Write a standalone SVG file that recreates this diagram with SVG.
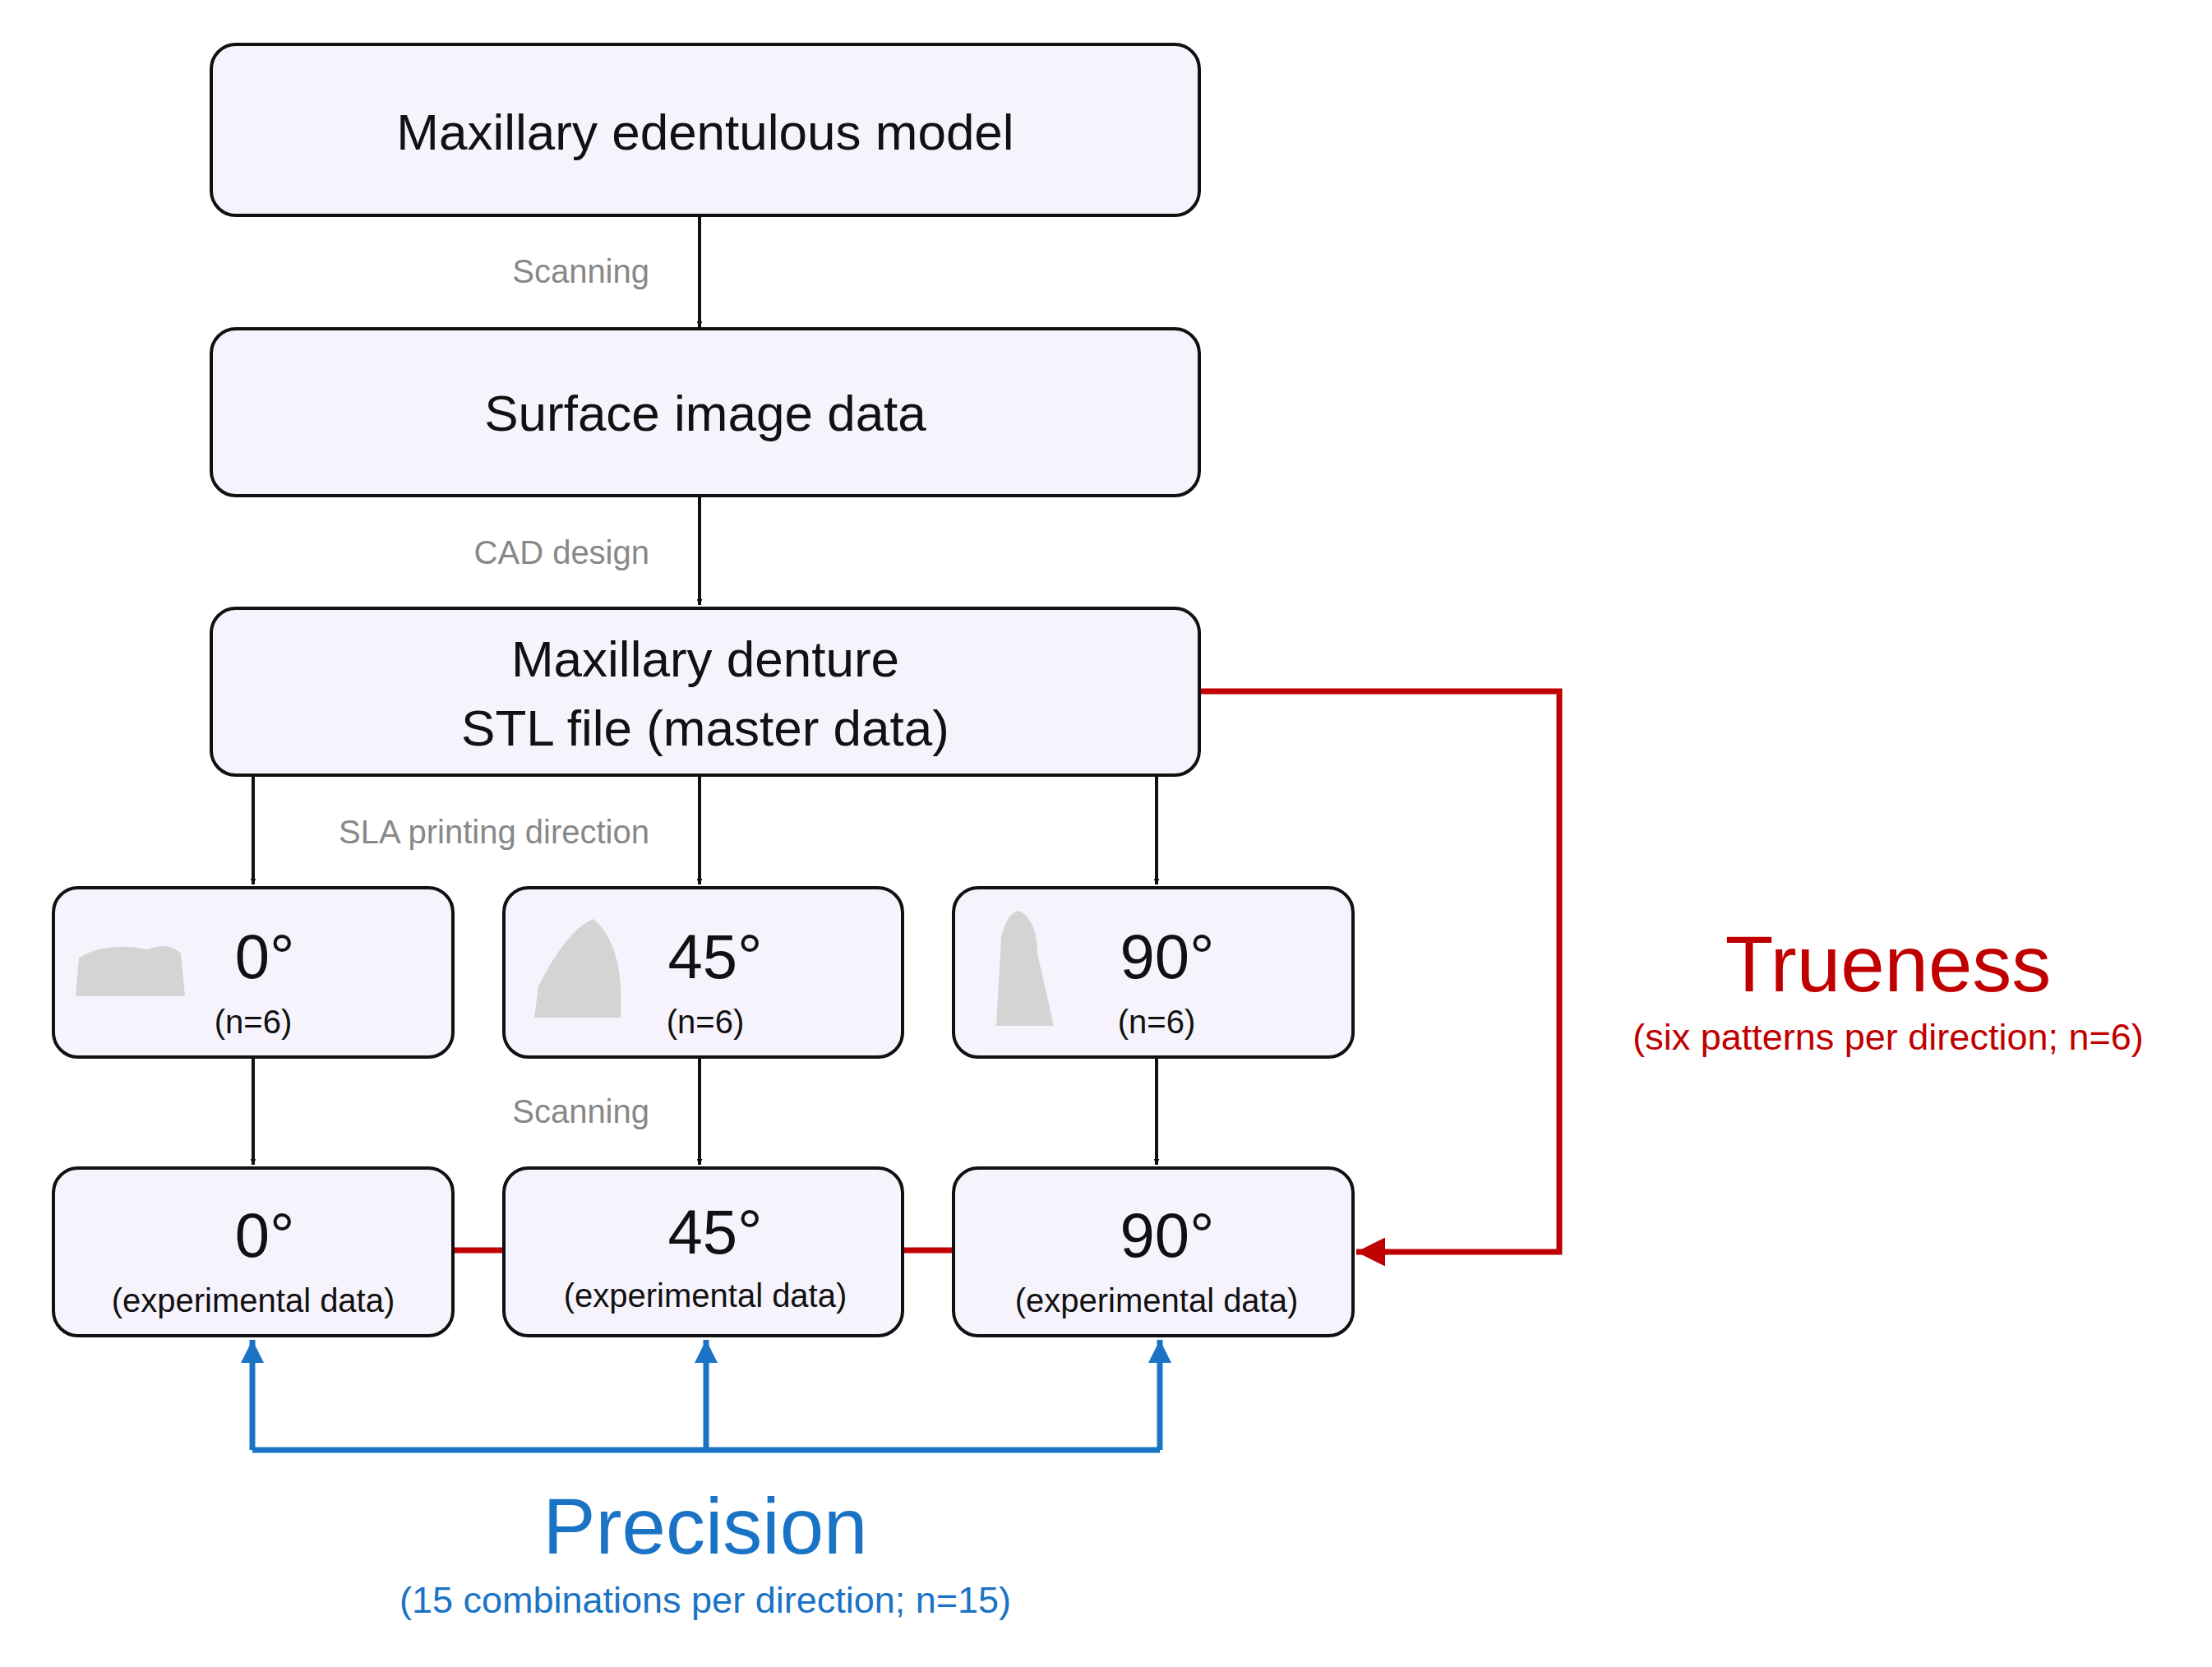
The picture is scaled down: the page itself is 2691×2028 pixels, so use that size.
<svg xmlns="http://www.w3.org/2000/svg" width="2691" height="2028" viewBox="0 0 2691 2028">
<style>
.box{fill:#f7f3fd;stroke:#111;stroke-width:4}
text{font-family:"Liberation Sans",Arial,sans-serif;text-anchor:middle}
.t{font-size:62px;fill:#111}
.d{font-size:76px;fill:#111}
.s{font-size:40px;fill:#111}
.g{font-size:40px;fill:#888;text-anchor:end}
.k{stroke:#111;stroke-width:4;fill:none}
.r{stroke:#c00000;stroke-width:7;fill:none}
.b{stroke:#1a73c4;stroke-width:7;fill:none}
.img{fill:#d4d4d4}
</style>
<defs>
<marker id="ak" viewBox="0 0 10 10" refX="10" refY="5" markerWidth="7" markerHeight="7" markerUnits="userSpaceOnUse" orient="auto"><path d="M0,0L10,5L0,10z" fill="#111"/></marker>
<marker id="ar" viewBox="0 0 10 10" refX="10" refY="5" markerWidth="5" markerHeight="5" orient="auto"><path d="M0,0L10,5L0,10z" fill="#c00000"/></marker>
<marker id="ab" viewBox="0 0 10 10" refX="10" refY="5" markerWidth="4" markerHeight="4" orient="auto"><path d="M0,0L10,5L0,10z" fill="#1a73c4"/></marker>
</defs>
<g id="connectors">
<path class="k" d="M851,262V398" style="marker-end:url(#ak)" marker-end="url(#ak)"/>
<path class="k" d="M851,603V736" marker-end="url(#ak)"/>
<path class="k" d="M308,943V1076" marker-end="url(#ak)"/>
<path class="k" d="M851,943V1076" marker-end="url(#ak)"/>
<path class="k" d="M1407,943V1076" marker-end="url(#ak)"/>
<path class="k" d="M308,1286V1417" marker-end="url(#ak)"/>
<path class="k" d="M851,1286V1417" marker-end="url(#ak)"/>
<path class="k" d="M1407,1286V1417" marker-end="url(#ak)"/>
<path class="r" d="M551,1521H613M1098,1521H1160"/>
<path class="r" d="M1459,841H1897V1523H1650" marker-end="url(#ar)"/>
<path class="b" d="M307,1764V1630" marker-end="url(#ab)"/>
<path class="b" d="M859,1764V1630" marker-end="url(#ab)"/>
<path class="b" d="M1411,1764V1630" marker-end="url(#ab)"/>
<path class="b" d="M307,1764H1411"/>
<text class="g" x="790" y="344">Scanning</text>
<text class="g" x="790" y="686">CAD design</text>
<text class="g" x="790" y="1026">SLA printing direction</text>
<text class="g" x="790" y="1366">Scanning</text>
</g>
<g id="n1"><rect class="box" x="257" y="54" width="1202" height="208" rx="30"/><text class="t" x="858" y="182">Maxillary edentulous model</text></g>
<g id="n2"><rect class="box" x="257" y="400" width="1202" height="203" rx="30"/><text class="t" x="858" y="524">Surface image data</text></g>
<g id="n3"><rect class="box" x="257" y="740" width="1202" height="203" rx="30"/><text class="t" x="858" y="823">Maxillary denture</text><text class="t" x="858" y="907">STL file (master data)</text></g>
<g id="p0"><rect class="box" x="65" y="1080" width="486" height="206" rx="30"/>
<path class="img" d="M92,1212L96,1165Q130,1145 180,1155Q205,1145 220,1160L225,1212Z"/>
<text class="d" x="322" y="1190">0°</text><text class="s" x="308" y="1257">(n=6)</text></g>
<g id="p45"><rect class="box" x="613" y="1080" width="485" height="206" rx="30"/>
<path class="img" d="M650,1238L655,1200Q690,1130 722,1118Q760,1150 755,1238Z"/>
<text class="d" x="870" y="1190">45°</text><text class="s" x="858" y="1257">(n=6)</text></g>
<g id="p90"><rect class="box" x="1160" y="1080" width="486" height="206" rx="30"/>
<path class="img" d="M1212,1248L1218,1140Q1225,1110 1240,1108Q1262,1120 1262,1160L1282,1248Z"/>
<text class="d" x="1420" y="1190">90°</text><text class="s" x="1407" y="1257">(n=6)</text></g>
<g id="e0"><rect class="box" x="65" y="1421" width="486" height="204" rx="30"/><text class="d" x="322" y="1529">0°</text><text class="s" x="308" y="1596">(experimental data)</text></g>
<g id="e45"><rect class="box" x="613" y="1421" width="485" height="204" rx="30"/><text class="d" x="870" y="1525">45°</text><text class="s" x="858" y="1590">(experimental data)</text></g>
<g id="e90"><rect class="box" x="1160" y="1421" width="486" height="204" rx="30"/><text class="d" x="1420" y="1529">90°</text><text class="s" x="1407" y="1596">(experimental data)</text></g>
<g id="trueness"><text x="2297" y="1206" style="font-size:96px;fill:#c00000">Trueness</text><text x="2297" y="1277" style="font-size:45px;fill:#c00000">(six patterns per direction; n=6)</text></g>
<g id="precision"><text x="858" y="1890" style="font-size:96px;fill:#1a73c4">Precision</text><text x="858" y="1962" style="font-size:45px;fill:#1a73c4">(15 combinations per direction; n=15)</text></g>
</svg>
